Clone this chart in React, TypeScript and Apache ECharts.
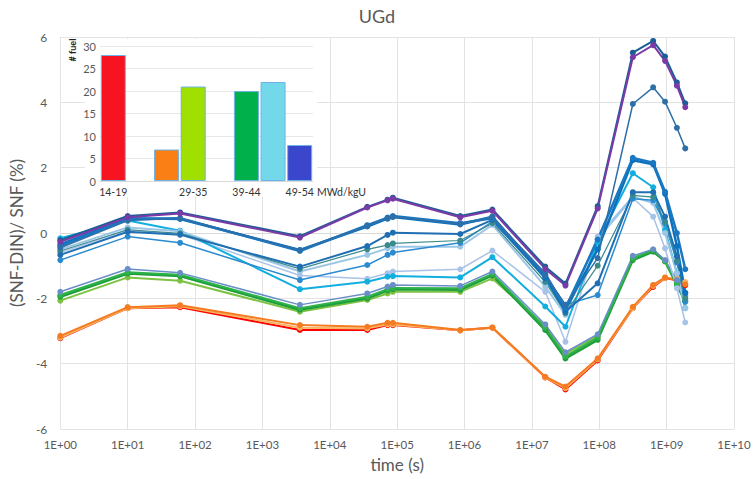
import React, { useEffect, useRef } from "react";
import * as echarts from "echarts";

// ---- Data ----
const times = [1, 10, 60, 3600, 36000, 72000, 86400, 864000, 2592000, 1.58e7, 3.15e7, 9.47e7, 3.15e8, 6.31e8, 9.47e8, 1.42e9, 1.89e9];

const purpleVals = [-0.27, 0.48, 0.6, -0.14, 0.78, 1.0, 1.05, 0.48, 0.68, -1.1, -1.61, 0.75, 5.38, 5.75, 5.27, 4.51, 3.85];
const navyVals = [-0.22, 0.52, 0.63, -0.1, 0.8, 1.02, 1.08, 0.52, 0.72, -1.03, -1.55, 0.82, 5.52, 5.88, 5.4, 4.61, 3.97];
const steelVals = [-0.45, 0.38, 0.45, -0.52, 0.22, 0.45, 0.5, 0.28, 0.5, -1.3, -2.2, -0.77, 3.95, 4.46, 4.02, 3.22, 2.59];
const blueAVals = [-0.4, 0.42, 0.45, -0.55, 0.24, 0.47, 0.52, 0.3, 0.45, -1.25, -2.3, -0.2, 2.3, 2.15, 1.26, 0.0, -1.11];
const blueBVals = [-0.35, 0.45, 0.43, -0.52, 0.2, 0.44, 0.49, 0.26, 0.5, -1.35, -2.35, -0.5, 2.23, 2.1, 1.2, -0.4, -1.83];
const midBlueVals = [-0.67, 0.04, -0.05, -1.03, -0.4, -0.06, 0.01, -0.03, 0.4, -1.39, -2.41, -1.54, 1.25, 1.25, 0.5, -0.72, -1.83];
const tealVals = [-0.55, 0.1, -0.01, -1.1, -0.5, -0.37, -0.32, -0.23, 0.3, -1.5, -2.45, -1.0, 1.15, 1.1, 0.35, -0.85, -2.0];
const paleVals = [-0.5, 0.17, 0.05, -1.18, -0.67, -0.47, -0.42, -0.42, 0.25, -1.64, -2.51, -0.11, 1.11, 0.92, 0.0, -1.23, -2.3];
const skyVals = [-0.83, -0.11, -0.3, -1.44, -0.98, -0.67, -0.6, -0.3, 0.35, -1.29, -2.2, -1.9, 1.05, 1.0, 0.3, -0.9, -2.1];
const cyanVals = [-0.16, 0.38, 0.07, -1.72, -1.49, -1.34, -1.32, -1.36, -0.74, -2.25, -2.87, -0.27, 1.83, 1.4, 0.09, -1.23, -2.3];
const lightSteelVals = [-0.6, 0.1, -0.05, -1.3, -1.4, -1.23, -1.18, -1.11, -0.54, -1.8, -3.33, -0.2, 1.07, 0.5, -0.47, -1.69, -2.74];
const greenTopVals = [-1.8, -1.1, -1.22, -2.2, -1.85, -1.64, -1.59, -1.62, -1.18, -2.8, -3.65, -3.1, -0.7, -0.5, -0.83, -1.44, -1.9];
const greenVals = [-1.9, -1.2, -1.28, -2.3, -1.95, -1.72, -1.68, -1.69, -1.25, -2.9, -3.78, -3.2, -0.78, -0.52, -0.85, -1.55, -2.05];
const darkGreenVals = [-1.95, -1.24, -1.32, -2.35, -2.0, -1.76, -1.72, -1.74, -1.3, -2.97, -3.84, -3.27, -0.83, -0.57, -0.86, -1.59, -2.1];
const limeVals = [-2.07, -1.36, -1.46, -2.41, -2.05, -1.85, -1.8, -1.8, -1.39, -2.85, -3.7, -3.15, -0.75, -0.55, -0.88, -1.5, -1.95];
const orangeVals = [-3.15, -2.27, -2.21, -2.82, -2.87, -2.75, -2.75, -2.97, -2.89, -4.4, -4.7, -3.84, -2.26, -1.59, -1.36, -1.44, -1.57];
const lightOrangeVals = [-3.2, -2.3, -2.24, -2.9, -2.92, -2.8, -2.8, -2.98, -2.9, -4.42, -4.75, -3.87, -2.3, -1.62, -1.38, -1.4, -1.5];
const redVals = [-3.22, -2.3, -2.27, -2.97, -2.97, -2.82, -2.82, -2.98, -2.9, -4.42, -4.79, -3.9, -2.3, -1.65, -1.38, -1.45, -1.6];

const xExpMin = 0;
const xExpMax = 10;
const yTicks = [-6, -4, -2, 0, 2, 4, 6];

const barCategories = ["14-19", "19-24", "24-29", "29-35", "35-39", "39-44", "44-49", "49-54"];
const barShownLabels = ["14-19", "29-35", "39-44", "49-54"];
const barCounts: (number | null)[] = [28, null, 7, 21, null, 20, 22, 8];
const barTicks = [0, 5, 10, 15, 20, 25, 30];

// ---- Styles ----
const lineDefs = [
  { name: "red", values: redVals, color: "#FF0000", width: 2 },
  { name: "lightOrange", values: lightOrangeVals, color: "#F8B660", width: 2 },
  { name: "orange", values: orangeVals, color: "#F47B20", width: 2 },
  { name: "lime", values: limeVals, color: "#7DC242", width: 2 },
  { name: "darkGreen", values: darkGreenVals, color: "#1E9E3A", width: 2.5 },
  { name: "green", values: greenVals, color: "#2DB34A", width: 2 },
  { name: "greenTop", values: greenTopVals, color: "#6A8FC8", width: 1.5 },
  { name: "lightSteel", values: lightSteelVals, color: "#A9C3E8", width: 1.5 },
  { name: "cyan", values: cyanVals, color: "#11AEDF", width: 2 },
  { name: "pale", values: paleVals, color: "#9CC6E6", width: 2 },
  { name: "sky", values: skyVals, color: "#2B8BD0", width: 1.5 },
  { name: "teal", values: tealVals, color: "#3A8A8C", width: 1.2 },
  { name: "midBlue", values: midBlueVals, color: "#1F6FB2", width: 2 },
  { name: "blueB", values: blueBVals, color: "#0B72BE", width: 2.5 },
  { name: "blueA", values: blueAVals, color: "#1A78C2", width: 2.5 },
  { name: "steel", values: steelVals, color: "#2F6FA8", width: 1.5 },
  { name: "navy", values: navyVals, color: "#1B5E96", width: 2 },
  { name: "purple", values: purpleVals, color: "#7B3AA6", width: 2 },
];

const barColors = ["#F5141F", "#FFFFFF", "#FA7F14", "#9FE000", "#FFFFFF", "#00B04A", "#72D8EA", "#3A46CC"];

const GRAY = "#595959";
const FONT = "Lato, 'Open Sans', sans-serif";

function fmtExp(v: number) {
  const e = Math.round(v);
  return "1E+" + String(e).padStart(2, "0");
}

export default function App() {
  const ref = useRef<HTMLDivElement>(null);

  useEffect(() => {
    document.body.style.margin = "0";
    if (!ref.current) return;
    const chart = echarts.init(ref.current, undefined, { renderer: "svg" });

    const lineSeries = lineDefs.map((d) => ({
      type: "line",
      name: d.name,
      xAxisIndex: 0,
      yAxisIndex: 0,
      data: times.map((t, i) => [Math.log10(t), d.values[i]]),
      symbol: "circle",
      symbolSize: 6,
      lineStyle: { color: d.color, width: d.width },
      itemStyle: { color: d.color },
      z: 2,
    }));

    chart.setOption({
      animation: false,
      backgroundColor: "#fff",
      textStyle: { fontFamily: FONT },
      title: {
        text: "UGd",
        left: "center",
        top: 2,
        textStyle: { color: GRAY, fontSize: 18, fontWeight: "normal", fontFamily: FONT },
      },
      grid: [
        { left: 48, right: 20, top: 37, bottom: 50 },
        { left: 100, top: 46, width: 213, height: 135 },
      ],
      xAxis: [
        {
          type: "value",
          gridIndex: 0,
          min: xExpMin,
          max: xExpMax,
          interval: 1,
          name: "time (s)",
          nameLocation: "middle",
          nameGap: 27,
          nameTextStyle: { color: GRAY, fontSize: 17, fontFamily: FONT },
          axisLine: { show: true, lineStyle: { color: "#d9d9d9" } },
          axisTick: { show: false },
          axisLabel: { color: GRAY, fontSize: 11.5, margin: 9, formatter: (v: number) => fmtExp(v), fontFamily: FONT },
          splitLine: { show: true, lineStyle: { color: "#e3e3e3", width: 1 } },
        },
        {
          type: "category",
          gridIndex: 1,
          data: barCategories,
          z: 3,
          axisLine: { show: true, lineStyle: { color: "#d9d9d9" } },
          axisTick: { show: false },
          axisLabel: {
            color: "#333",
            fontSize: 10.5,
            margin: 5,
            interval: 0,
            fontFamily: FONT,
            formatter: (v: string) => (barShownLabels.includes(v) ? v : ""),
          },
        },
      ],
      yAxis: [
        {
          type: "value",
          gridIndex: 0,
          min: yTicks[0],
          max: yTicks[yTicks.length - 1],
          interval: 2,
          name: "(SNF-DIN)/ SNF (%)",
          nameLocation: "middle",
          nameGap: 28,
          nameTextStyle: { color: GRAY, fontSize: 17, fontFamily: FONT },
          axisLine: { show: false },
          axisTick: { show: false },
          axisLabel: { color: GRAY, fontSize: 12, margin: 13, fontFamily: FONT },
          splitLine: { show: true, lineStyle: { color: "#e3e3e3", width: 1 } },
        },
        {
          type: "value",
          gridIndex: 1,
          min: barTicks[0],
          max: barTicks[barTicks.length - 1],
          interval: 5,
          z: 3,
          axisLine: { show: false },
          axisTick: { show: false },
          axisLabel: { color: GRAY, fontSize: 11, margin: 4, fontFamily: FONT },
          splitLine: { show: true, lineStyle: { color: "#e8e8e8", width: 1 } },
        },
      ],
      graphic: [
        {
          type: "rect",
          z: 1,
          shape: { x: 85, y: 39, width: 232, height: 158 },
          style: { fill: "#fff" },
          silent: true,
        },
        {
          type: "text",
          z: 4,
          x: 317,
          y: 192,
          style: { text: "MWd/kgU", fill: "#333", fontSize: 10.5, fontFamily: FONT, verticalAlign: "middle" },
        },
        {
          type: "text",
          z: 4,
          x: 72,
          y: 50,
          rotation: Math.PI / 2,
          style: {
            text: "# fuel",
            fill: "#222",
            fontSize: 9,
            fontWeight: "bold",
            fontFamily: FONT,
            align: "center",
            verticalAlign: "middle",
          },
        },
      ],
      series: [
        ...lineSeries,
        {
          type: "bar",
          xAxisIndex: 1,
          yAxisIndex: 1,
          z: 4,
          barCategoryGap: "6%",
          data: barCounts.map((v, i) => ({
            value: v,
            itemStyle: { color: barColors[i], borderColor: "#6FB3E6", borderWidth: 1 },
          })),
        },
      ],
    });

    return () => chart.dispose();
  }, []);

  return <div ref={ref} style={{ width: 754, height: 479 }} />;
}
